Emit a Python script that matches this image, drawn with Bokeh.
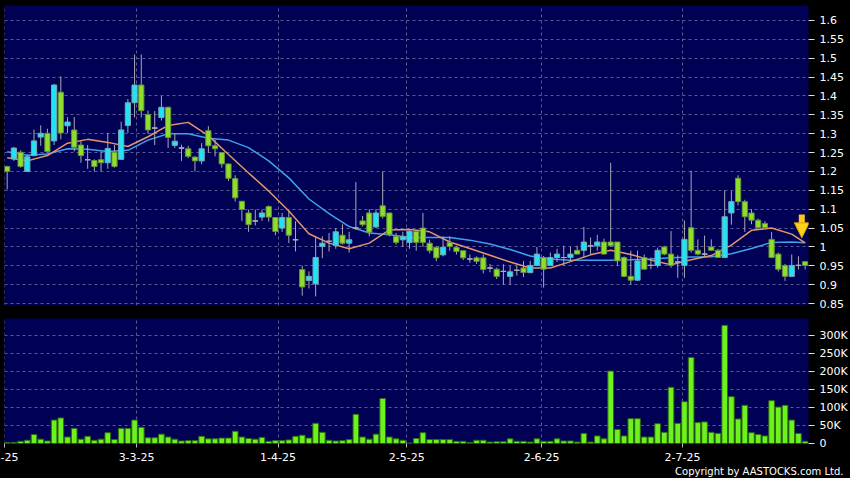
from bokeh.plotting import figure
from bokeh.layouts import column
from bokeh.models import (ColumnDataSource, FixedTicker, NumeralTickFormatter, Title,
                          Arrow, NormalHead, Range1d)
from bokeh.embed import file_html
from bokeh.resources import INLINE

# ---------------- data ----------------
opens = [1.213, 1.233, 1.251, 1.200, 1.242, 1.291, 1.301, 1.281, 1.410, 1.321,
         1.310, 1.270, 1.231, 1.229, 1.231, 1.223, 1.251, 1.232, 1.322, 1.382,
         1.429, 1.351, 1.315, 1.343, 1.370, 1.269, 1.262, 1.260, 1.238, 1.228,
         1.308, 1.268, 1.250, 1.220, 1.181, 1.121, 1.090, 1.069, 1.079, 1.107,
         1.078, 1.050, 1.078, 1.019, 0.940, 0.911, 0.902, 1.001, 1.015, 1.004,
         1.031, 1.010, 1.050, 1.069, 1.090, 1.053, 1.109, 1.090, 1.028, 1.019,
         1.012, 1.041, 1.050, 1.010, 0.999, 0.979, 1.012, 0.999, 0.990, 0.968,
         0.971, 0.971, 0.944, 0.941, 0.935, 0.922, 0.938, 0.944, 0.932, 0.951,
         0.972, 0.951, 0.972, 0.972, 0.972, 0.991, 0.991, 1.003, 1.003, 1.013,
         1.013, 1.013, 0.972, 0.922, 0.912, 0.972, 0.951, 0.951, 1.000, 0.981,
         0.960, 0.951, 1.051, 0.991, 0.981, 1.000, 0.991, 0.972, 1.090, 1.182,
         1.120, 1.090, 1.071, 1.062, 1.020, 0.981, 0.951, 0.922, 0.951, 0.961]
highs = [1.215, 1.265, 1.256, 1.245, 1.311, 1.322, 1.313, 1.432, 1.452, 1.344,
         1.344, 1.280, 1.270, 1.232, 1.253, 1.302, 1.270, 1.332, 1.392, 1.510,
         1.510, 1.361, 1.360, 1.400, 1.372, 1.300, 1.271, 1.268, 1.240, 1.275,
         1.320, 1.284, 1.250, 1.220, 1.190, 1.121, 1.099, 1.099, 1.099, 1.110,
         1.079, 1.090, 1.095, 1.068, 0.950, 0.935, 1.028, 1.028, 1.037, 1.050,
         1.060, 1.040, 1.172, 1.082, 1.100, 1.100, 1.200, 1.090, 1.037, 1.040,
         1.046, 1.045, 1.090, 1.019, 1.002, 1.028, 1.028, 1.003, 0.990, 0.980,
         0.975, 0.980, 0.955, 0.945, 0.954, 0.950, 0.950, 0.963, 0.963, 1.000,
         0.976, 0.985, 0.995, 1.003, 1.000, 1.003, 1.053, 1.025, 1.032, 1.022,
         1.223, 1.013, 0.975, 0.990, 0.990, 0.980, 0.972, 0.998, 1.003, 1.042,
         0.978, 1.070, 1.202, 1.020, 1.030, 1.020, 0.995, 1.150, 1.148, 1.190,
         1.125, 1.100, 1.075, 1.068, 1.040, 0.985, 0.955, 0.980, 0.975, 0.962]
lows = [1.152, 1.228, 1.210, 1.200, 1.240, 1.268, 1.250, 1.270, 1.285, 1.302,
        1.253, 1.223, 1.207, 1.200, 1.200, 1.207, 1.210, 1.230, 1.302, 1.343,
        1.343, 1.300, 1.270, 1.335, 1.262, 1.262, 1.228, 1.235, 1.200, 1.219,
        1.249, 1.240, 1.210, 1.175, 1.120, 1.069, 1.040, 1.057, 1.069, 1.067,
        1.031, 1.040, 1.010, 0.988, 0.871, 0.890, 0.869, 0.970, 0.988, 0.995,
        1.006, 0.985, 1.045, 1.054, 1.028, 1.050, 1.075, 1.028, 1.006, 1.000,
        0.995, 0.990, 1.000, 0.983, 0.962, 0.975, 0.990, 0.980, 0.965, 0.958,
        0.955, 0.930, 0.933, 0.915, 0.900, 0.900, 0.924, 0.920, 0.930, 0.950,
        0.892, 0.950, 0.960, 0.950, 0.963, 0.980, 0.972, 0.980, 0.990, 0.980,
        1.000, 0.950, 0.920, 0.900, 0.910, 0.940, 0.941, 0.945, 0.978, 0.945,
        0.918, 0.918, 0.985, 0.978, 0.975, 0.990, 0.972, 0.972, 1.059, 1.110,
        1.040, 1.060, 1.048, 1.050, 0.970, 0.935, 0.910, 0.920, 0.940, 0.940]
closes = [1.200, 1.262, 1.213, 1.239, 1.281, 1.301, 1.253, 1.429, 1.302, 1.331,
          1.264, 1.242, 1.231, 1.213, 1.223, 1.261, 1.213, 1.310, 1.382, 1.429,
          1.361, 1.310, 1.315, 1.370, 1.290, 1.280, 1.262, 1.240, 1.228, 1.260,
          1.268, 1.260, 1.220, 1.182, 1.130, 1.099, 1.059, 1.069, 1.090, 1.079,
          1.041, 1.078, 1.031, 1.019, 0.894, 0.922, 0.972, 1.010, 1.015, 1.040,
          1.010, 1.019, 1.050, 1.059, 1.039, 1.090, 1.081, 1.032, 1.012, 1.028,
          1.041, 1.012, 1.012, 0.990, 0.971, 0.999, 1.001, 0.988, 0.971, 0.968,
          0.962, 0.940, 0.944, 0.922, 0.935, 0.934, 0.938, 0.932, 0.951, 0.981,
          0.941, 0.972, 0.981, 0.972, 0.981, 0.981, 1.013, 1.003, 1.013, 0.981,
          1.003, 0.963, 0.922, 0.912, 0.963, 0.941, 0.951, 0.991, 0.981, 0.951,
          0.960, 1.020, 0.991, 0.981, 0.981, 0.991, 0.972, 1.080, 1.120, 1.120,
          1.080, 1.071, 1.051, 1.051, 0.972, 0.941, 0.922, 0.951, 0.951, 0.951]
volumes = [3000, 3000, 6000, 9000, 25000, 12000, 7000, 65000, 71000, 18000,
           42000, 12000, 20000, 9000, 12000, 30000, 11000, 42000, 42000, 65000,
           45000, 16000, 16000, 26000, 18000, 12000, 7000, 8000, 8000, 20000,
           13000, 13000, 15000, 15000, 34000, 18000, 14000, 12000, 17000, 6000,
           8000, 8000, 10000, 20000, 23000, 15000, 56000, 31000, 9000, 7000,
           8000, 11000, 81000, 18000, 12000, 26000, 125000, 18000, 13000, 9000,
           1000, 14000, 30000, 11000, 11000, 11000, 11000, 6000, 6000, 3000,
           9000, 9000, 4000, 5000, 5000, 13000, 6000, 6000, 4000, 13000,
           6000, 6000, 13000, 7000, 7000, 4000, 28000, 4000, 21000, 13000,
           201000, 39000, 21000, 69000, 69000, 18000, 18000, 55000, 31000, 156000,
           56000, 116000, 239000, 58000, 60000, 31000, 28000, 328000, 130000, 68000,
           106000, 30000, 25000, 21000, 119000, 101000, 106000, 65000, 28000, 6000]

# moving averages at these candle indices
ma_idx = [0, 3, 6, 9, 12, 15, 18, 21, 24, 27, 30, 33, 36, 39, 42, 45, 48, 51, 54, 57,
          60, 63, 66, 69, 72, 75, 78, 81, 84, 87, 90, 93, 96, 99, 102, 105, 108, 111,
          114, 117, 119]
ma_short = [1.236, 1.228, 1.242, 1.275, 1.285, 1.277, 1.266, 1.292, 1.322, 1.330,
            1.295, 1.245, 1.196, 1.148, 1.095, 1.035, 1.010, 0.995, 1.010, 1.045,
            1.046, 1.040, 1.013, 0.996, 0.978, 0.960, 0.944, 0.944, 0.961, 0.979,
            0.991, 0.980, 0.965, 0.953, 0.966, 0.977, 1.005, 1.044, 1.050, 1.034,
            1.011]
ma_long = [1.252, 1.243, 1.246, 1.260, 1.259, 1.253, 1.256, 1.283, 1.300, 1.300,
           1.288, 1.283, 1.263, 1.228, 1.183, 1.127, 1.088, 1.054, 1.037, 1.032,
           1.025, 1.025, 1.025, 1.018, 1.008, 0.993, 0.976, 0.968, 0.965, 0.965,
           0.965, 0.966, 0.968, 0.971, 0.973, 0.974, 0.982, 0.996, 1.012, 1.013,
           1.011]

# the first date label is cut by the left edge in the reference: only "-25" shows
date_ticks = [-0.38, 19.3, 40.4, 59.6, 79.7, 100.7]
date_labels = ["-25", "3-3-25", "1-4-25", "2-5-25", "2-6-25", "2-7-25"]
price_ticks = [0.85, 0.9, 0.95, 1.0, 1.05, 1.1, 1.15, 1.2, 1.25, 1.3, 1.35, 1.4,
               1.45, 1.5, 1.55, 1.6]
vol_ticks = [0, 50000, 100000, 150000, 200000, 250000, 300000]
vol_labels = ["0", "50K", "100K", "150K", "200K", "250K", "300K"]
copyright_text = "Copyright by AASTOCKS.com Ltd."

# ---------------- styling ----------------
BG = "#000055"
GRID = "#5A5A8E"
CYAN = "#24E2F2"
CYAN_EDGE = "#76A9B6"
GREEN = "#8EDF2C"
GREEN_EDGE = "#66923A"
WICK = "#A9A9B4"
ORANGE = "#E6956A"
BLUE = "#3EA2EA"
VOL = "#6EF21E"
VOL_EDGE = "#2E6A10"
FONT = "DejaVu Sans"
FS = "11px"

n = len(closes)
idx = list(range(n))
fills, edges = [], []
for o, c in zip(opens, closes):
    if c > o:
        fills.append(CYAN); edges.append(CYAN_EDGE)
    elif c < o:
        fills.append(GREEN); edges.append(GREEN_EDGE)
    else:
        fills.append(WICK); edges.append(WICK)

src = ColumnDataSource(dict(
    x=idx, high=highs, low=lows,
    top=[max(o, c) for o, c in zip(opens, closes)],
    bottom=[min(o, c) for o, c in zip(opens, closes)],
    fill=fills, edge=edges))

doji_x = [i for i, o, c in zip(idx, opens, closes) if o == c]
doji_y = [o for o, c in zip(opens, closes) if o == c]

xr = Range1d(-0.4, 119.5)


def style_common(p):
    p.background_fill_color = BG
    p.border_fill_color = "black"
    p.outline_line_color = None
    p.grid.grid_line_color = GRID
    p.grid.grid_line_dash = "3 3"
    p.grid.grid_line_width = 1
    p.yaxis.axis_line_color = None
    p.yaxis.major_tick_in = 0
    p.yaxis.major_tick_out = 6
    p.yaxis.major_tick_line_color = "#DDDDDD"
    p.yaxis.minor_tick_line_color = None
    p.yaxis.major_label_text_color = "white"
    p.yaxis.major_label_text_font = FONT
    p.yaxis.major_label_text_font_size = FS
    p.yaxis.major_label_standoff = 5


# ---------------- price panel ----------------
p1 = figure(width=850, height=318, x_range=xr, y_range=Range1d(0.8448, 1.6397),
            output_backend="svg", toolbar_location=None,
            x_axis_location=None, y_axis_location="right",
            min_border_left=4, min_border_top=5, min_border_bottom=13,
            min_border_right=40)
style_common(p1)
p1.xgrid.ticker = FixedTicker(ticks=date_ticks)
p1.yaxis.ticker = FixedTicker(ticks=price_ticks)
p1.yaxis.formatter = NumeralTickFormatter(format="0.[00]")

p1.line(ma_idx, ma_long, line_color=BLUE, line_width=1.5)
p1.line(ma_idx, ma_short, line_color=ORANGE, line_width=1.5)
p1.segment(x0="x", y0="high", x1="x", y1="low", line_color=WICK, line_width=1, source=src)
p1.vbar(x="x", width=0.78, top="top", bottom="bottom", fill_color="fill",
        line_color="edge", line_width=1, source=src)
p1.segment(x0=[x - 0.4 for x in doji_x], y0=doji_y, x1=[x + 0.4 for x in doji_x], y1=doji_y,
           line_color=WICK, line_width=1.2)

# yellow marker arrow at the end of the short moving average
p1.add_layout(Arrow(end=NormalHead(size=15, fill_color="#FFD21A", line_color="#D99A00",
                                   line_width=1),
                    x_start=ma_idx[-1] - 0.5, y_start=ma_short[-1] + 0.075,
                    x_end=ma_idx[-1] - 0.5, y_end=ma_short[-1] + 0.013,
                    line_color="#FFC619", line_width=6))

# ---------------- volume panel ----------------
p2 = figure(width=850, height=160, x_range=xr, y_range=Range1d(0, 347000),
            output_backend="svg", toolbar_location=None, y_axis_location="right",
            min_border_left=4, min_border_top=0, min_border_bottom=35,
            min_border_right=40)
style_common(p2)
p2.yaxis.ticker = FixedTicker(ticks=vol_ticks)
p2.yaxis.major_label_overrides = dict(zip(vol_ticks, vol_labels))
p2.xaxis.ticker = FixedTicker(ticks=date_ticks)
p2.xaxis.major_label_overrides = dict(zip(date_ticks, date_labels))
p2.xaxis.axis_line_color = None
p2.xaxis.major_tick_in = 0
p2.xaxis.major_tick_out = 4
p2.xaxis.major_tick_line_color = "#BBBBBB"
p2.xaxis.minor_tick_line_color = None
p2.xaxis.major_label_text_color = "white"
p2.xaxis.major_label_text_font = FONT
p2.xaxis.major_label_text_font_size = FS
p2.xaxis.major_label_standoff = 5

p2.vbar(x=idx, top=volumes, width=0.84, fill_color=VOL, line_color=VOL_EDGE, line_width=1)

p2.add_layout(Title(text=copyright_text, align="right", offset=-35, standoff=0,
                    text_color="white", text_font=FONT, text_font_size="10px",
                    text_font_style="normal"), "below")

layout = column(p1, p2, spacing=0)
layout.background = "black"

open("out.html", "w").write(file_html(layout, INLINE))
